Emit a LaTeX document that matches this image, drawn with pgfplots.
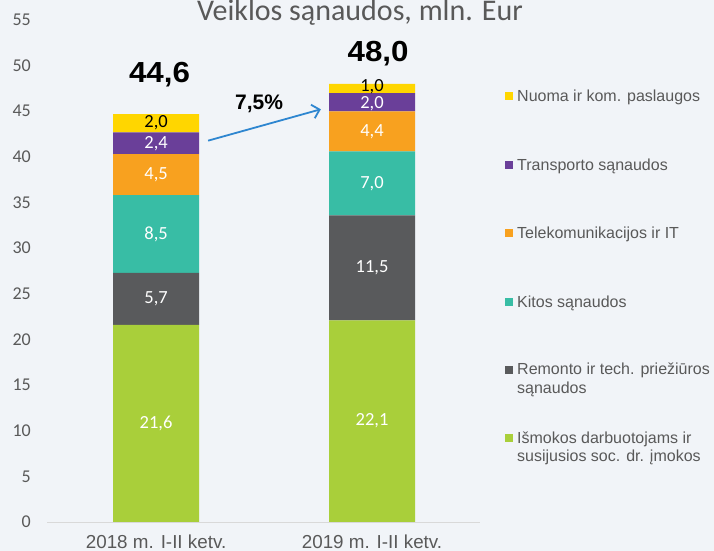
\documentclass[border=0pt]{standalone}
\usepackage{pgfplots}
\pgfplotsset{compat=1.18}
\usepackage{fontspec}
\setmainfont{Liberation Sans}
\newfontfamily\calibri{Carlito}
\usetikzlibrary{arrows.meta}
\definecolor{bg}{RGB}{241,244,248}
\definecolor{cgreen}{RGB}{169,207,58}
\definecolor{cdark}{RGB}{89,90,92}
\definecolor{cteal}{RGB}{56,189,165}
\definecolor{corange}{RGB}{248,161,31}
\definecolor{cpurple}{RGB}{106,63,153}
\definecolor{cyellow}{RGB}{255,214,0}
\definecolor{txt}{RGB}{89,89,89}
\definecolor{arrowblue}{RGB}{46,134,208}
\definecolor{axisgray}{RGB}{217,217,217}
\begin{document}
\begin{tikzpicture}
\useasboundingbox (0,0) rectangle (714bp,551bp);
\clip (0,0) rectangle (714bp,551bp);
\fill[bg] (0,0) rectangle (714bp,551bp);
\begin{axis}[
  at={(47bp,29bp)}, anchor=south west,
  scale only axis, width=433bp, height=502bp,
  xmin=-0.505, xmax=1.5, ymin=0, ymax=55,
  ybar stacked, bar width=86bp,
  axis x line*=bottom, axis y line*=left,
  x axis line style={draw=axisgray, line width=1bp, -},
  y axis line style={draw=none},
  major tick length=0pt,
  xtick={0,1}, xticklabels={2018 m. I-II ketv., 2019 m. I-II ketv.},
  ytick distance=5,
  yticklabel style={font=\calibri\fontsize{18bp}{20bp}\selectfont, text=txt, inner sep=0pt, anchor=east, xshift=-16bp, /pgf/number format/assume math mode=true},
  xticklabel style={font=\fontsize{18.8bp}{20bp}\selectfont, text=txt, inner sep=0pt, anchor=base, yshift=-26.5bp},
]
\addplot[fill=cgreen, draw=none] coordinates {(0,21.6) (1,22.1)};
\addplot[fill=cdark, draw=none] coordinates {(0,5.7) (1,11.5)};
\addplot[fill=cteal, draw=none] coordinates {(0,8.5) (1,7.0)};
\addplot[fill=corange, draw=none] coordinates {(0,4.5) (1,4.4)};
\addplot[fill=cpurple, draw=none] coordinates {(0,2.4) (1,2.0)};
\addplot[fill=cyellow, draw=none] coordinates {(0,2.0) (1,1.0)};
\end{axis}
\begin{axis}[
  at={(47bp,29bp)}, anchor=south west,
  scale only axis, width=433bp, height=502bp,
  xmin=-0.505, xmax=1.5, ymin=0, ymax=55,
  hide axis, clip=false,
  nodes near coords, point meta=explicit symbolic,
  every node near coord/.append style={anchor=center, inner sep=0pt, font=\calibri\fontsize{18.5bp}{20bp}\selectfont},
]
\addplot[draw=none, mark=none, every node near coord/.append style={text=white}] coordinates {
  (0,10.8) [21,6] (0,24.45) [5,7] (0,31.55) [8,5] (0,38.05) [4,5] (0,41.5) [2,4]
  (1,11.05) [22,1] (1,27.85) [11,5] (1,37.1) [7,0] (1,42.8) [4,4] (1,45.87) [2,0]
};
\addplot[draw=none, mark=none, every node near coord/.append style={text=black}] coordinates {
  (0,43.7) [2,0] (1,47.68) [1,0]
};
\addplot[draw=none, mark=none, every node near coord/.append style={text=black, anchor=base, xscale=1.08, font=\bfseries\fontsize{29bp}{30bp}\selectfont}] coordinates {
  (0.016,48.1) [44,6] (1.028,50.5) [48,0]
};
\addplot[draw=none, mark=none, every node near coord/.append style={text=black, anchor=base, font=\bfseries\fontsize{21bp}{22bp}\selectfont}] coordinates {
  (0.477,45.14) [7,5\%]
};
\draw[arrowblue, line width=1.8bp, -{Straight Barb[length=7bp, width=14bp, line width=1.8bp]}] (axis cs:0.241,41.78) -- (axis cs:0.763,45.22);
\end{axis}
\node[anchor=base, text=txt, font=\calibri\fontsize{30bp}{32bp}\selectfont, inner sep=0pt] at (360bp,530.3bp) {Veiklos sąnaudos, mln. Eur};
% legend
\begin{scope}[every node/.style={anchor=base west, inner sep=0pt, text=txt, font=\fontsize{16bp}{18bp}\selectfont}]
\fill[cyellow] (505bp,451bp) rectangle (513bp,459bp);
\node at (517bp,449.3bp) {Nuoma ir kom. paslaugos};
\fill[cpurple] (505bp,382bp) rectangle (513bp,390bp);
\node at (517bp,380.3bp) {Transporto sąnaudos};
\fill[corange] (505bp,314bp) rectangle (513bp,322bp);
\node at (517bp,312.3bp) {Telekomunikacijos ir IT};
\fill[cteal] (505bp,245bp) rectangle (513bp,253bp);
\node at (517bp,243.3bp) {Kitos sąnaudos};
\fill[cdark] (505bp,177bp) rectangle (513bp,185bp);
\node at (517bp,176.5bp) {Remonto ir tech. priežiūros};
\node at (517bp,157.7bp) {sąnaudos};
\fill[cgreen] (505bp,109bp) rectangle (513bp,117bp);
\node at (517bp,107.5bp) {Išmokos darbuotojams ir};
\node at (517bp,89.3bp) {susijusios soc. dr. įmokos};
\end{scope}
\end{tikzpicture}
\end{document}
